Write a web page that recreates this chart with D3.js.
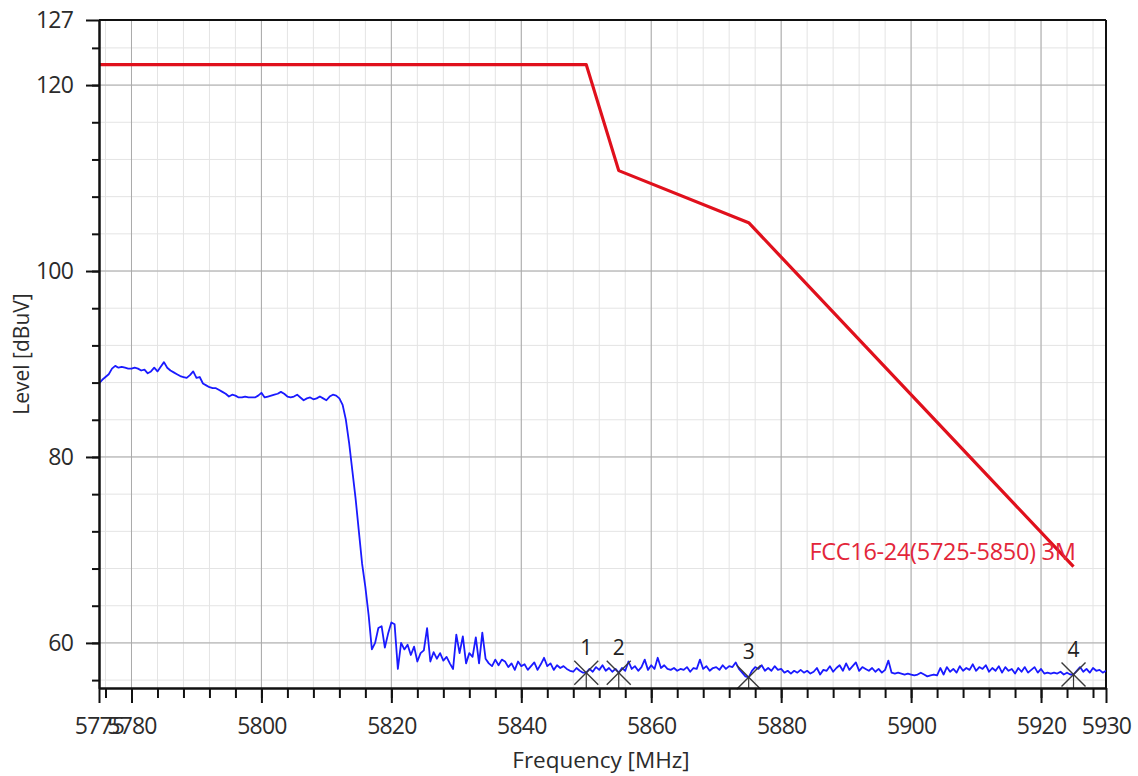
<!DOCTYPE html>
<html><head><meta charset="utf-8">
<script src="https://cdn.jsdelivr.net/npm/d3@7"></script>
<style>
html,body{margin:0;padding:0;background:#fff;}
svg{display:block;}
text{font-family:"Open Sans","Noto Sans",sans-serif;}
</style></head><body>
<svg id="chart" width="1138" height="776"></svg>
<script>
// ---- data ----
const traceStart = 5775;   // MHz, first sweep point
const traceStep = 0.5;     // MHz between sweep points
const traceLevels = [
  87.9, 88.3, 88.6, 88.9, 89.5, 89.8, 89.6, 89.7, 89.6, 89.5,
  89.5, 89.6, 89.5, 89.3, 89.4, 89.0, 89.2, 89.6, 89.2, 89.7,
  90.2, 89.6, 89.3, 89.1, 88.9, 88.7, 88.6, 88.5, 88.8, 89.2,
  88.5, 88.6, 87.9, 87.7, 87.5, 87.4, 87.4, 87.2, 87.0, 86.8,
  86.5, 86.7, 86.6, 86.4, 86.4, 86.5, 86.4, 86.4, 86.4, 86.6,
  86.9, 86.4, 86.5, 86.6, 86.7, 86.8, 87.0, 86.8, 86.5, 86.4,
  86.5, 86.7, 86.4, 86.1, 86.3, 86.4, 86.2, 86.3, 86.5, 86.3,
  86.1, 86.5, 86.7, 86.6, 86.3, 85.6, 84.0, 81.5, 78.5, 75.5,
  72.0, 68.5, 66.0, 63.0, 59.3, 60.0, 61.6, 61.8, 59.5, 61.0,
  62.2, 62.0, 57.2, 60.0, 59.3, 59.8, 58.7, 59.6, 58.0, 58.9,
  59.2, 61.6, 58.0, 59.0, 58.3, 58.9, 58.1, 58.5, 57.8, 57.2,
  60.9, 58.9, 60.7, 57.8, 58.9, 58.5, 60.6, 57.8, 61.1, 58.3,
  57.8, 57.5, 58.2, 57.6, 58.2, 58.0, 57.4, 57.8, 57.1, 58.0,
  57.5, 57.7, 57.1, 57.5, 57.9, 57.1, 57.7, 58.4, 57.5, 57.8,
  57.1, 57.6, 57.3, 57.5, 57.2, 57.0, 56.9, 57.3, 57.0, 56.8,
  56.8, 57.2, 56.9, 57.4, 57.1, 57.6, 57.0, 57.3, 56.9, 57.2,
  56.8, 57.3, 57.0, 58.0, 57.2, 57.5, 57.0, 57.4, 58.2, 57.1,
  57.6, 57.2, 58.4, 57.3, 57.6, 57.2, 57.1, 57.3, 57.0, 57.2,
  57.1, 57.4, 56.9, 57.3, 57.2, 58.2, 57.2, 57.5, 57.0, 57.3,
  57.4, 57.1, 57.6, 57.2, 57.5, 57.4, 57.9, 57.2, 56.8, 56.4,
  56.3, 57.0, 57.4, 57.2, 57.6, 57.0, 57.3, 57.0, 57.5, 57.1,
  57.2, 56.8, 57.0, 56.7, 57.0, 56.8, 57.1, 56.8, 57.0, 56.7,
  56.9, 57.3, 56.6, 57.1, 57.0, 57.5, 56.9, 57.3, 57.6, 57.0,
  57.8, 57.1, 57.5, 57.9, 57.0, 57.4, 57.2, 57.0, 57.3, 56.9,
  57.2, 56.8, 57.1, 58.1, 56.8, 56.7, 56.8, 56.7, 56.6, 56.7,
  56.6, 56.5, 56.6, 56.8, 56.6, 56.4, 56.5, 56.6, 56.5, 57.3,
  56.6, 57.4, 56.9, 57.2, 56.8, 57.5, 57.0, 57.3, 57.1, 57.7,
  57.0, 57.4, 57.2, 57.6, 56.9, 57.3, 57.0, 57.5, 56.8, 57.4,
  57.0, 57.2, 56.7, 57.3, 56.9, 57.4, 56.8, 57.1, 57.4, 56.8,
  57.2, 56.7, 56.8, 56.7, 56.8, 56.7, 56.9, 56.6, 56.8, 56.6,
  56.6, 57.0, 57.4, 56.9, 57.2, 56.8, 57.3, 57.0, 57.1, 56.8,
  57.0
];
const limitFreqs  = [5775, 5850, 5855, 5875, 5925];
const limitLevels = [122.2, 122.2, 110.8, 105.2, 68.2];
const limitName = "FCC16-24(5725-5850) 3M";

const markerFreqs  = [5850, 5855, 5875, 5925];
const markerLevels = [56.8, 56.8, 56.3, 56.6];
const markerLabels = ["1", "2", "3", "4"];

const xMajorTicks = [5775, 5780, 5800, 5820, 5840, 5860, 5880, 5900, 5920, 5930];
const yMajorTicks = [60, 80, 100, 120, 127];
const xGridMajor = [5780, 5800, 5820, 5840, 5860, 5880, 5900, 5920];
const yGridMajor = [60, 80, 100, 120];
const xMinorTicks = d3.range(5776, 5930, 4);
const yMinorTicks = d3.range(56, 127, 4);
const xTitle = "Frequency [MHz]";
const yTitle = "Level [dBuV]";

// ---- drawing ----
const svg = d3.select("#chart");
const W = 1138, H = 776;
const L = 99, R = 1106, T = 20, B = 688;
const FONT = '"Open Sans","Noto Sans",sans-serif';

const x = d3.scaleLinear().domain([5775, 5930]).range([L, R]);
const y = d3.scaleLinear().domain([55.15, 127]).range([B, T]);

svg.append("rect").attr("width", W).attr("height", H).attr("fill", "#fff");

svg.append("clipPath").attr("id", "plotclip")
  .append("rect").attr("x", L).attr("y", T).attr("width", R - L).attr("height", B - T);

// grid
const grid = svg.append("g");
grid.selectAll("line.xmin").data(xMinorTicks).join("line")
  .attr("x1", d => x(d)).attr("x2", d => x(d)).attr("y1", T).attr("y2", B)
  .attr("stroke", "#e4e4e4").attr("stroke-width", 1);
grid.selectAll("line.ymin").data(yMinorTicks).join("line")
  .attr("y1", d => y(d)).attr("y2", d => y(d)).attr("x1", L).attr("x2", R)
  .attr("stroke", "#e4e4e4").attr("stroke-width", 1);
grid.selectAll("line.xmaj").data(xGridMajor).join("line")
  .attr("x1", d => x(d)).attr("x2", d => x(d)).attr("y1", T).attr("y2", B)
  .attr("stroke", "#a9a9a9").attr("stroke-width", 1);
grid.selectAll("line.ymaj").data(yGridMajor).join("line")
  .attr("y1", d => y(d)).attr("y2", d => y(d)).attr("x1", L).attr("x2", R)
  .attr("stroke", "#a9a9a9").attr("stroke-width", 1);

// frame top & right
svg.append("line").attr("x1", L).attr("x2", R).attr("y1", y(127)).attr("y2", y(127))
  .attr("stroke", "#111").attr("stroke-width", 2);
svg.append("line").attr("x1", x(5930)).attr("x2", x(5930)).attr("y1", T).attr("y2", B)
  .attr("stroke", "#111").attr("stroke-width", 2);

// series
const plot = svg.append("g").attr("clip-path", "url(#plotclip)");
const trace = traceLevels.map((v, i) => [traceStart + i * traceStep, v]);
plot.append("path").datum(trace)
  .attr("fill", "none").attr("stroke", "#1a1aff").attr("stroke-width", 1.8)
  .attr("stroke-linejoin", "round")
  .attr("d", d3.line().x(d => x(d[0])).y(d => y(d[1])));

const limit = limitFreqs.map((f, i) => [f, limitLevels[i]]);
plot.append("path").datum(limit)
  .attr("fill", "none").attr("stroke", "#e0101c").attr("stroke-width", 3.2)
  .attr("stroke-linejoin", "round")
  .attr("d", d3.line().x(d => x(d[0])).y(d => y(d[1])));

svg.append("text")
  .attr("x", x(limitFreqs[limitFreqs.length - 1]) + 2)
  .attr("y", y(limitLevels[limitLevels.length - 1]) - 7)
  .attr("text-anchor", "end").attr("font-size", 23.5).attr("letter-spacing", -0.3)
  .attr("fill", "#e3263a").text(limitName);

// markers
const mk = svg.append("g").selectAll("g").data(markerFreqs).join("g")
  .attr("transform", (d, i) => `translate(${x(d)},${y(markerLevels[i])})`);
mk.append("path").attr("d", "M-12,-12L12,12M-12,12L12,-12")
  .attr("stroke", "#3a3a3a").attr("stroke-width", 1.4).attr("fill", "none");
mk.append("line").attr("x1", 0).attr("x2", 0).attr("y1", 0)
  .attr("y2", (d, i) => B - y(markerLevels[i]))
  .attr("stroke", "#3a3a3a").attr("stroke-width", 1.2);
mk.append("text").attr("x", 0).attr("y", -18)
  .attr("text-anchor", "middle").attr("font-size", 21).attr("fill", "#222")
  .text((d, i) => markerLabels[i]);

// axes
const xAxisMinor = d3.axisBottom(x).tickValues(xMinorTicks).tickSize(10).tickFormat("").tickSizeOuter(0);
const xAxis = d3.axisBottom(x).tickValues(xMajorTicks).tickSize(15).tickPadding(15)
  .tickFormat(d3.format("d")).tickSizeOuter(0);
const yAxisMinor = d3.axisLeft(y).tickValues(yMinorTicks).tickSize(7).tickFormat("").tickSizeOuter(0);
const yAxis = d3.axisLeft(y).tickValues(yMajorTicks).tickSize(13).tickPadding(13)
  .tickFormat(d3.format("d")).tickSizeOuter(0);

function styleAxis(g) {
  g.select(".domain").attr("stroke", "#111").attr("stroke-width", 2);
  g.selectAll(".tick line").attr("stroke", "#111").attr("stroke-width", 2);
  g.selectAll(".tick text").attr("fill", "#2b2b2b").attr("font-size", 23)
    .attr("letter-spacing", -0.8).attr("font-family", FONT);
}
svg.append("g").attr("transform", `translate(0,${B})`).call(xAxisMinor).call(styleAxis);
svg.append("g").attr("transform", `translate(0,${B})`).call(xAxis).call(styleAxis);
svg.append("g").attr("transform", `translate(0,${y(55.15)})`);
svg.append("g").attr("transform", `translate(${L},0)`).call(yAxisMinor).call(styleAxis);
svg.append("g").attr("transform", `translate(${L},0)`).call(yAxis).call(styleAxis);

// titles
svg.append("text").attr("x", 601).attr("y", 768)
  .attr("text-anchor", "middle").attr("font-size", 22.5).attr("fill", "#2b2b2b").text(xTitle);
svg.append("text").attr("transform", `translate(29,354) rotate(-90)`)
  .attr("text-anchor", "middle").attr("font-size", 21).attr("fill", "#2b2b2b").text(yTitle);
</script>
</body></html>
